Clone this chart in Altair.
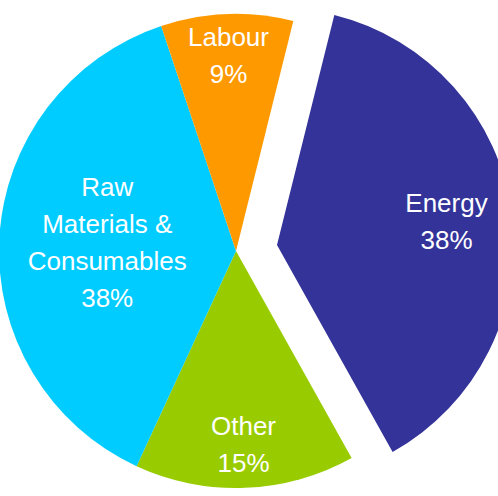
import math
import altair as alt
import pandas as pd

# Cost breakdown shares, listed clockwise starting with the exploded slice
categories = ["Energy", "Other", "Raw Materials & Consumables", "Labour"]
shares = [38, 15, 38, 9]
labels = ["Energy\n38%", "Other\n15%", "Raw\nMaterials &\nConsumables\n38%", "Labour\n9%"]
colors = ["#333399", "#99cc00", "#00ccff", "#ff9900"]

df = pd.DataFrame({
    "category": categories,
    "share": shares,
    "label": labels,
    "order": list(range(len(categories))),
})

# Geometry / styling
START = math.radians(14)
RADIUS = 237
CENTER = (236, 251)
EXPLODED_CENTER = (277, 245)
LABEL_RADIUS = {"Energy": 171, "Other": 195, "Raw Materials & Consumables": 129, "Labour": 195}
LINE_HEIGHT = 37

theta_scale = alt.Scale(domain=[0, 100], range=[START, START + 2 * math.pi])
color_scale = alt.Scale(domain=categories, range=colors)

base = (
    alt.Chart(df)
    .transform_window(end="sum(share)", sort=[alt.SortField("order")], frame=[None, 0])
    .transform_calculate(start="datum.end - datum.share", mid="datum.end - datum.share / 2")
)


def center_of(cat):
    return EXPLODED_CENTER if cat == "Energy" else CENTER


layers = []
for cat in categories:
    cx, cy = center_of(cat)
    part = base.transform_filter(alt.datum.category == cat)
    arc = part.mark_arc(radius=RADIUS).encode(
        theta=alt.Theta("start:Q", scale=theta_scale, stack=None),
        theta2="end:Q",
        color=alt.Color("category:N", scale=color_scale, legend=None),
        x=alt.value(cx),
        y=alt.value(cy),
    )
    layers.append(arc)

for cat, lab in zip(categories, labels):
    cx, cy = center_of(cat)
    n_lines = lab.count("\n") + 1
    part = base.transform_filter(alt.datum.category == cat)
    txt = part.mark_text(
        font="Liberation Sans",
        fontSize=26,
        color="white",
        lineBreak="\n",
        lineHeight=LINE_HEIGHT,
        align="center",
        baseline="middle",
        dy=-(n_lines - 1) / 2 * LINE_HEIGHT,
    ).encode(
        theta=alt.Theta("mid:Q", scale=theta_scale, stack=None),
        radius=alt.value(LABEL_RADIUS[cat]),
        text="label:N",
        x=alt.value(cx),
        y=alt.value(cy),
    )
    layers.append(txt)

chart = (
    alt.layer(*layers)
    .properties(width=498, height=496, autosize=alt.AutoSizeParams(type="none"), padding=0)
    .configure_view(stroke=None)
)

chart.save("out.html", embed_options={"renderer": "svg", "actions": False})
